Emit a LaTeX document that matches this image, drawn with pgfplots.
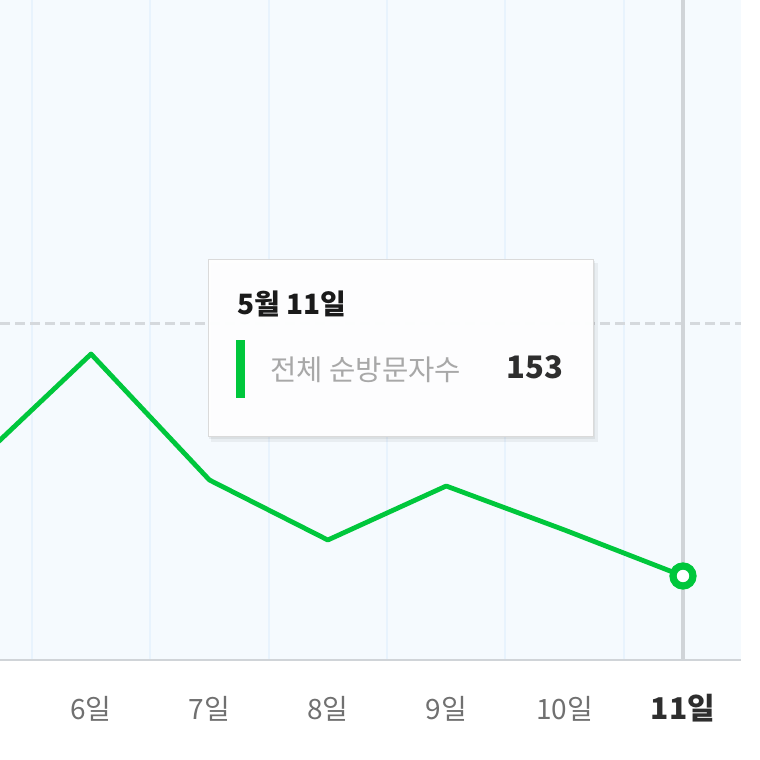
\documentclass[border=0pt]{standalone}
\usepackage{pgfplots}
\pgfplotsset{compat=1.18}
\usepackage{fontspec}
\setmainfont{Noto Sans CJK KR}
\definecolor{nvgreen}{HTML}{00C73C}
\definecolor{bgblue}{HTML}{F5FAFE}
\definecolor{gridblue}{HTML}{E8F3FD}
\definecolor{dashgray}{HTML}{D5D9DD}
\definecolor{hlgray}{HTML}{D0D4D8}
\definecolor{basegray}{HTML}{D0D4D8}
\definecolor{tickgray}{HTML}{707070}
\definecolor{darktxt}{HTML}{2E2E2E}
\definecolor{titleblack}{HTML}{1A1A1A}
\definecolor{lbltxt}{HTML}{A8A8A8}
\definecolor{boxgray}{HTML}{DADADA}
\begin{document}
\begin{tikzpicture}
\begin{axis}[
  at={(0pt,0pt)}, anchor=north west,
  scale only axis, width=370.5pt, height=330pt,
  xmin=5.231, xmax=11.49, ymin=111, ymax=441,
  axis line style={draw=none},
  major tick length=0pt, minor tick length=0pt,
  xtick={6,7,8,9,10,11},
  xticklabels={6일,7일,8일,9일,10일,{\fontsize{15}{17}\selectfont\bfseries\color{darktxt}11일}},
  xticklabel style={anchor=base, yshift=-29.5pt, font=\fontsize{14}{16}\selectfont, text=tickgray},
  minor xtick={5.5,6.5,7.5,8.5,9.5,10.5},
  xminorgrids=true,
  minor grid style={gridblue, line width=1pt},
  ytick={279.5}, yticklabels={},
  ymajorgrids=true,
  major grid style={dashgray, line width=1.5pt, dash pattern=on 5pt off 2.5pt},
  axis background/.style={fill=bgblue},
  clip=false,
]
\draw[hlgray, line width=2pt] (axis cs:11,111) -- (axis cs:11,441);
\draw[basegray, line width=1pt] (axis cs:5.231,111) -- (axis cs:11.49,111);
\addplot[nvgreen, line width=2.4pt, line join=round] coordinates {
  (5,208) (6,264) (7,201) (8,171) (9,198) (10,176) (11,153)
};
\addplot[only marks, mark=*, mark size=5pt,
  mark options={draw=nvgreen, fill=white, line width=3.6pt}] coordinates {(11,153)};
\end{axis}
\begin{scope}[x=0.5pt, y=-0.5pt]
  \fill[black, opacity=0.05] (211,263) rectangle (598,442);
  \fill[black, opacity=0.06] (209,261) rectangle (595,439);
  \filldraw[fill=white, fill opacity=0.97, draw=boxgray, line width=0.5pt] (208,259) rectangle (593,436);
  \node[anchor=base west, inner sep=0, font=\fontsize{14}{16}\selectfont\bfseries, text=titleblack] at (237,314) {5월 11일};
  \fill[nvgreen] (236,340) rectangle (245,398);
  \node[anchor=base west, inner sep=0, font=\fontsize{14.3}{16}\selectfont, text=lbltxt] at (270,380) {전체 순방문자수};
  \node[anchor=base east, inner sep=0, font=\fontsize{15.5}{17}\selectfont\bfseries, text=darktxt] at (564,378) {153};
  \pgfresetboundingbox
  \path[use as bounding box] (0,0) rectangle (760,760);
\end{scope}
\end{tikzpicture}
\end{document}
